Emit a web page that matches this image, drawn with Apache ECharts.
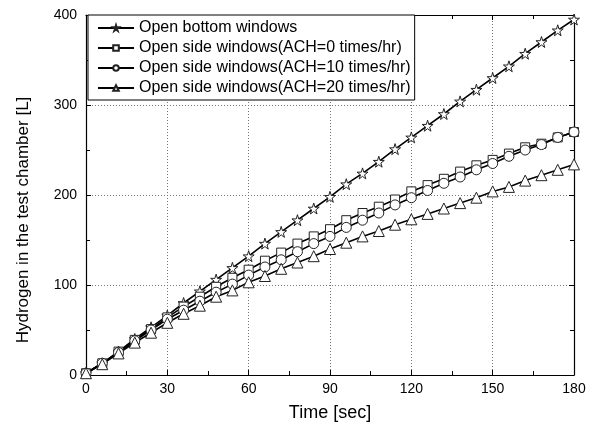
<!DOCTYPE html>
<html>
<head>
<meta charset="utf-8">
<script src="https://cdn.jsdelivr.net/npm/echarts@6/dist/echarts.min.js"></script>
<style>html,body{margin:0;padding:0;background:#fff}#c{width:592px;height:427px}</style>
</head>
<body>
<div id="c"></div>
<script>
var times = [0,6,12,18,24,30,36,42,48,54,60,66,72,78,84,90,96,102,108,114,120,126,132,138,144,150,156,162,168,174,180];
var bottomWin = [2,13,26,40,53,66,80,93,106,119,132,146,159,172,185,198,212,224,237,251,264,277,290,304,317,330,343,357,370,383,395];
var side0 = [2,13,26,39,51,64,76,87,98,108,117,127,136,146,154,162,172,180,187,195,204,211,218,226,233,239,246,253,257,264,270];
var side10 = [2,13,25,38,50,62,72,82,92,101,111,120,128,137,146,154,164,172,180,189,197,205,213,220,228,235,243,250,256,264,270];
var side20 = [2,12,24,36,47,58,68,77,87,94,103,110,118,125,132,140,147,154,160,167,173,179,185,191,197,204,209,216,222,228,234];
var names = ['Open bottom windows','Open side windows(ACH=0 times/hr)','Open side windows(ACH=10 times/hr)','Open side windows(ACH=20 times/hr)'];
var xTicks = [0,30,60,90,120,150,180];
var yTicks = [0,100,200,300,400];

var star = 'path://M50,0 L61,35 L98,35 L68,57 L79,91 L50,70 L21,91 L32,57 L2,35 L39,35 Z';
var FONT = 'Liberation Sans, Arial, sans-serif';

function pairs(v){ return times.map(function(t,i){ return [t, v[i]]; }); }
function mk(name, data, symbol, size){
  return {
    name: name, type: 'line', data: pairs(data), symbol: symbol, symbolSize: size,
    showAllSymbol: true,
    lineStyle: {color: '#000', width: 1.6},
    itemStyle: {color: '#fff', borderColor: '#222', borderWidth: 1},
    emphasis: {disabled: true}, animation: false
  };
}

var chart = echarts.init(document.getElementById('c'), null, {renderer: 'canvas'});
var axisCommon = {
  axisLine: {show: true, onZero: false, lineStyle: {color: '#000', width: 1.2}},
  axisTick: {show: true, inside: true, length: 5, lineStyle: {color: '#000'}},
  minorTick: {show: true, splitNumber: 2, length: 4, lineStyle: {color: '#000'}}
};
chart.setOption({
  animation: false,
  backgroundColor: '#fff',
  grid: {left: 86, right: 18, top: 15, bottom: 52},
  legend: {
    orient: 'vertical', left: 88, top: 15,
    backgroundColor: '#fff',
    borderColor: '#000', borderWidth: 1, padding: [5, 4, 4, 9],
    itemWidth: 36, itemHeight: 7, itemGap: 4,
    lineStyle: {width: 2},
    textStyle: {fontFamily: FONT, fontSize: 16, color: '#000'},
    data: names
  },
  xAxis: [
    Object.assign({
      type: 'value', min: 0, max: 180, interval: 30,
      axisLabel: {color: '#000', fontFamily: FONT, fontSize: 14, margin: 7,
        formatter: function(v){ return xTicks.indexOf(v) >= 0 ? String(v) : ''; }},
      splitLine: {show: true, lineStyle: {color: '#777', type: [1, 2], width: 1}},
      name: 'Time [sec]', nameLocation: 'middle', nameGap: 29,
      nameTextStyle: {color: '#000', fontFamily: FONT, fontSize: 18}
    }, axisCommon),
    Object.assign({
      type: 'value', min: 0, max: 180, interval: 30, position: 'top',
      axisLabel: {show: false}, splitLine: {show: false}
    }, axisCommon)
  ],
  yAxis: [
    Object.assign({
      type: 'value', min: 0, max: 400, interval: 100,
      axisLabel: {color: '#000', fontFamily: FONT, fontSize: 14, margin: 9,
        formatter: function(v){ return yTicks.indexOf(v) >= 0 ? String(v) : ''; }},
      splitLine: {show: true, lineStyle: {color: '#777', type: [1, 2], width: 1}},
      name: 'Hydrogen in the test chamber [L]', nameLocation: 'middle', nameGap: 54,
      nameTextStyle: {color: '#000', fontFamily: FONT, fontSize: 17, padding: [0, 50, 0, 0]}
    }, axisCommon),
    Object.assign({
      type: 'value', min: 0, max: 400, interval: 100, position: 'right',
      axisLabel: {show: false}, splitLine: {show: false}
    }, axisCommon)
  ],
  series: [
    mk(names[0], bottomWin, star, 11),
    mk(names[1], side0, 'rect', 9),
    mk(names[2], side10, 'circle', 10),
    mk(names[3], side20, 'triangle', 11)
  ]
});
</script>
</body>
</html>
